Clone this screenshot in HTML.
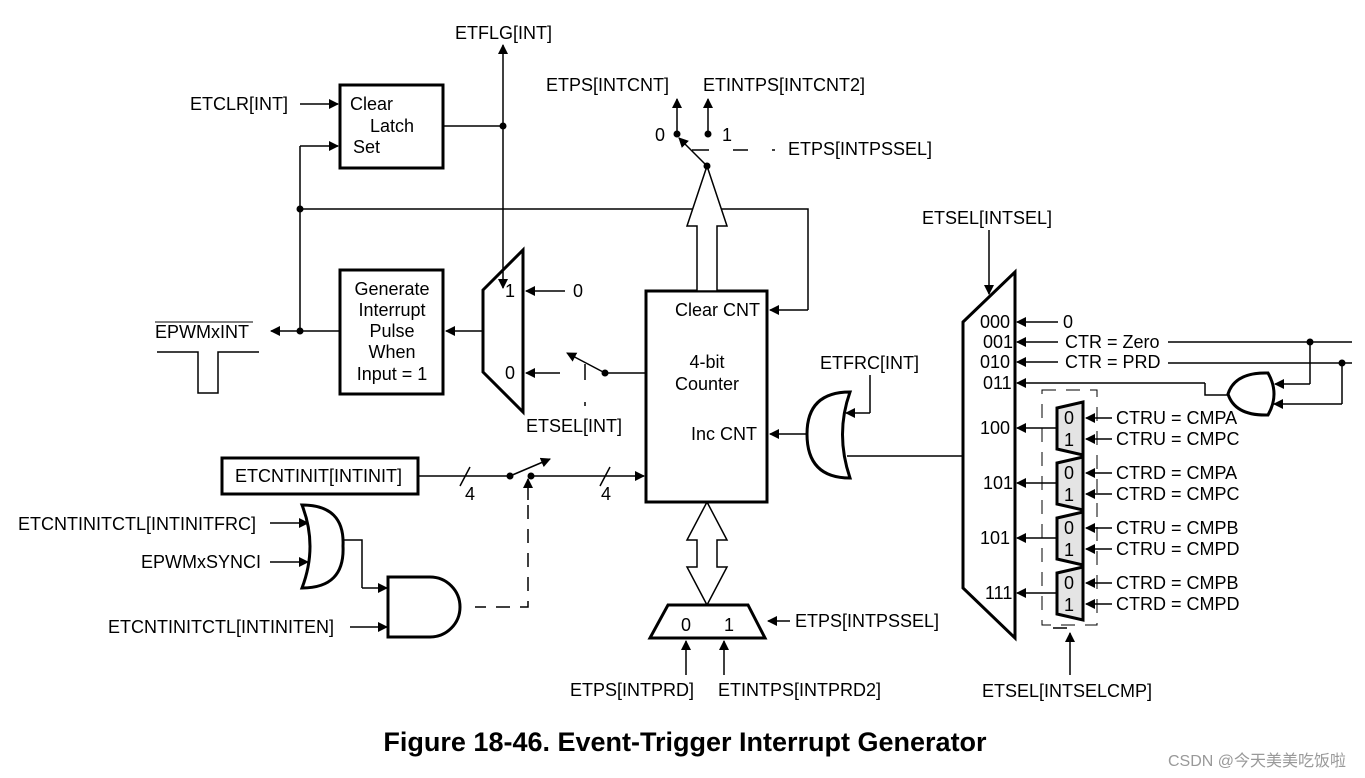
<!DOCTYPE html>
<html><head><meta charset="utf-8"><style>
html,body{margin:0;padding:0;background:#fff;}
svg{display:block;font-family:"Liberation Sans",Arial,sans-serif;}
text{font-size:18px;fill:#000;}
</style></head><body>
<svg width="1365" height="778" viewBox="0 0 1365 778" xmlns="http://www.w3.org/2000/svg">
<defs>
<marker id="a" markerWidth="10" markerHeight="10" refX="9" refY="5" orient="auto" markerUnits="userSpaceOnUse"><path d="M0,0 L10,5 L0,10 z" fill="#000"/></marker>
</defs>
<g stroke="#000" stroke-width="1.5" fill="none">
<rect x="340" y="85" width="103" height="83" stroke-width="3"/>
<line x1="300" y1="104" x2="338" y2="104" marker-end="url(#a)"/>
<line x1="300" y1="146" x2="338" y2="146" marker-end="url(#a)"/>
<polyline points="300,146 300,331"/>
<line x1="443" y1="126" x2="503" y2="126"/>
<line x1="503" y1="126" x2="503" y2="45" marker-end="url(#a)"/>
<line x1="503" y1="126" x2="503" y2="288" marker-end="url(#a)"/>
<polyline points="300,209 808,209 808,310" />
<line x1="808" y1="310" x2="770" y2="310" marker-end="url(#a)"/>
<polygon points="483,290 523,250 523,412 483,372" stroke-width="3"/>
<line x1="565" y1="291" x2="526" y2="291" marker-end="url(#a)"/>
<line x1="560" y1="373" x2="526" y2="373" marker-end="url(#a)"/>
<line x1="605" y1="373" x2="567" y2="353" marker-end="url(#a)"/>
<line x1="605" y1="373" x2="645" y2="373"/>
<line x1="585" y1="364" x2="585" y2="380"/>
<line x1="585" y1="402" x2="585" y2="406"/>
<rect x="340" y="270" width="103" height="124" stroke-width="3"/>
<line x1="483" y1="331" x2="446" y2="331" marker-end="url(#a)"/>
<line x1="340" y1="331" x2="271" y2="331" marker-end="url(#a)"/>
<polyline points="157,352 198,352 198,393 218,393 218,352 259,352"/>
<line x1="155" y1="322" x2="253" y2="322" stroke-width="1"/>
<rect x="646" y="291" width="121" height="211" stroke-width="3"/>
<polygon points="697,291 697,226 687,226 707,166 727,226 717,226 717,291" fill="#fff"/>
<line x1="707" y1="166" x2="679" y2="138" marker-end="url(#a)"/>
<line x1="677" y1="134" x2="677" y2="99" marker-end="url(#a)"/>
<line x1="708" y1="134" x2="708" y2="99" marker-end="url(#a)"/>
<path d="M692,150 H709 M733,150 H748 M772,150 H775"/>
<polygon points="707,502 727,540 717,540 717,567 727,567 707,605 687,567 697,567 697,540 687,540" fill="#fff"/>
<polygon points="650,638 765,638 748,605 668,605" stroke-width="3" fill="#fff"/>
<line x1="686" y1="675" x2="686" y2="641" marker-end="url(#a)"/>
<line x1="724" y1="675" x2="724" y2="641" marker-end="url(#a)"/>
<line x1="790" y1="621" x2="768" y2="621" marker-end="url(#a)"/>
<rect x="222" y="458" width="196" height="36" stroke-width="3"/>
<line x1="418" y1="476" x2="510" y2="476"/>
<line x1="460" y1="486" x2="470" y2="467"/>
<line x1="510" y1="476" x2="550" y2="459" marker-end="url(#a)"/>
<line x1="531" y1="476" x2="644" y2="476" marker-end="url(#a)"/>
<line x1="600" y1="486" x2="610" y2="467"/>
<line x1="528" y1="500" x2="528" y2="479" marker-end="url(#a)"/>
<path d="M528,505 V607 H475" stroke-dasharray="14,10"/>
<path d="M302,505 Q345,505 343,546 Q345,588 302,588 Q318,546 302,505 z" stroke-width="3"/>
<line x1="270" y1="523" x2="308" y2="523" marker-end="url(#a)"/>
<line x1="270" y1="562" x2="308" y2="562" marker-end="url(#a)"/>
<polyline points="343,540 362,540 362,588"/>
<line x1="362" y1="588" x2="387" y2="588" marker-end="url(#a)"/>
<path d="M388,577 H430 A30,30 0 0 1 430,637 H388 z" stroke-width="3"/>
<line x1="350" y1="627" x2="387" y2="627" marker-end="url(#a)"/>
<path d="M850,392 Q807,392 807,434 Q807,478 850,478 Q835,434 850,392 z" stroke-width="3"/>
<line x1="807" y1="434" x2="770" y2="434" marker-end="url(#a)"/>
<polyline points="870,375 870,413"/>
<line x1="870" y1="413" x2="846" y2="413" marker-end="url(#a)"/>
<line x1="963" y1="456" x2="847" y2="456"/>
<polygon points="963,322 1015,272 1015,638 963,588" stroke-width="3"/>
<line x1="989" y1="230" x2="989" y2="294" marker-end="url(#a)"/>
<line x1="1058" y1="322" x2="1017" y2="322" marker-end="url(#a)"/>
<line x1="1058" y1="342" x2="1017" y2="342" marker-end="url(#a)"/>
<line x1="1058" y1="362" x2="1017" y2="362" marker-end="url(#a)"/>
<line x1="1168" y1="342" x2="1352" y2="342"/>
<line x1="1168" y1="363" x2="1352" y2="363"/>
<polyline points="1205,383 1205,395 1228,395"/>
<line x1="1205" y1="383" x2="1017" y2="383" marker-end="url(#a)"/>
<path d="M1268,373 Q1235,372 1228,394 Q1235,416 1268,415 Q1280,394 1268,373 z" stroke-width="3"/>
<polyline points="1310,342 1310,384"/>
<line x1="1310" y1="384" x2="1275" y2="384" marker-end="url(#a)"/>
<polyline points="1342,363 1342,404"/>
<line x1="1342" y1="404" x2="1274" y2="404" marker-end="url(#a)"/>
<rect x="1042" y="390" width="55" height="235" stroke-width="1" stroke-dasharray="14,10"/>
<line x1="1070" y1="675" x2="1070" y2="633" marker-end="url(#a)"/>
<line x1="1053" y1="628" x2="1067" y2="628"/>
<g fill="#e4e4e4" stroke-width="3">
<polygon points="1057,408 1083,402 1083,455 1057,449"/>
<polygon points="1057,463 1083,457 1083,510 1057,504"/>
<polygon points="1057,518 1083,512 1083,565 1057,559"/>
<polygon points="1057,573 1083,567 1083,620 1057,614"/>
</g>
<g>
<line x1="1112" y1="418" x2="1086" y2="418" marker-end="url(#a)"/><line x1="1112" y1="439" x2="1086" y2="439" marker-end="url(#a)"/>
<line x1="1112" y1="473" x2="1086" y2="473" marker-end="url(#a)"/><line x1="1112" y1="494" x2="1086" y2="494" marker-end="url(#a)"/>
<line x1="1112" y1="528" x2="1086" y2="528" marker-end="url(#a)"/><line x1="1112" y1="549" x2="1086" y2="549" marker-end="url(#a)"/>
<line x1="1112" y1="583" x2="1086" y2="583" marker-end="url(#a)"/><line x1="1112" y1="604" x2="1086" y2="604" marker-end="url(#a)"/>
<line x1="1057" y1="428" x2="1017" y2="428" marker-end="url(#a)"/>
<line x1="1057" y1="483" x2="1017" y2="483" marker-end="url(#a)"/>
<line x1="1057" y1="538" x2="1017" y2="538" marker-end="url(#a)"/>
<line x1="1057" y1="593" x2="1017" y2="593" marker-end="url(#a)"/>
</g>
</g>
<g fill="#000">
<circle cx="503" cy="126" r="3.5"/><circle cx="300" cy="209" r="3.5"/><circle cx="300" cy="331" r="3.5"/>
<circle cx="605" cy="373" r="3.5"/><circle cx="707" cy="166" r="3.5"/><circle cx="677" cy="134" r="3.5"/><circle cx="708" cy="134" r="3.5"/>
<circle cx="510" cy="476" r="3.5"/><circle cx="531" cy="476" r="3.5"/>
<circle cx="1310" cy="342" r="3.5"/><circle cx="1342" cy="363" r="3.5"/>
</g>
<text x="350" y="110">Clear</text><text x="370" y="132">Latch</text><text x="353" y="153">Set</text>
<text x="190" y="110">ETCLR[INT]</text>
<text x="455" y="39">ETFLG[INT]</text>
<text x="546" y="91">ETPS[INTCNT]</text><text x="703" y="91">ETINTPS[INTCNT2]</text>
<text x="655" y="141">0</text><text x="722" y="141">1</text>
<text x="788" y="155">ETPS[INTPSSEL]</text>
<text x="505" y="297">1</text><text x="505" y="379">0</text><text x="573" y="297">0</text>
<text x="526" y="432">ETSEL[INT]</text>
<g text-anchor="middle"><text x="392" y="295">Generate</text><text x="392" y="316">Interrupt</text><text x="392" y="337">Pulse</text><text x="392" y="358">When</text><text x="392" y="380">Input = 1</text>
<text x="707" y="368">4-bit</text><text x="707" y="390">Counter</text></g>
<text x="155" y="338">EPWMxINT</text>
<text x="675" y="316">Clear CNT</text><text x="691" y="440">Inc CNT</text>
<text x="235" y="482">ETCNTINIT[INTINIT]</text>
<text x="465" y="500">4</text><text x="601" y="500">4</text>
<text x="18" y="530">ETCNTINITCTL[INTINITFRC]</text>
<text x="141" y="568">EPWMxSYNCI</text>
<text x="108" y="633">ETCNTINITCTL[INTINITEN]</text>
<text x="681" y="631">0</text><text x="724" y="631">1</text>
<text x="795" y="627">ETPS[INTPSSEL]</text>
<text x="570" y="696">ETPS[INTPRD]</text><text x="718" y="696">ETINTPS[INTPRD2]</text>
<text x="820" y="369">ETFRC[INT]</text>
<text x="922" y="224">ETSEL[INTSEL]</text>
<text x="980" y="328">000</text><text x="983" y="348">001</text><text x="980" y="368">010</text><text x="983" y="389">011</text>
<text x="980" y="434">100</text><text x="983" y="489">101</text><text x="980" y="544">101</text><text x="985" y="599">111</text>
<text x="1063" y="328">0</text><text x="1065" y="348">CTR = Zero</text><text x="1065" y="368">CTR = PRD</text>
<g style="font-size:17px">
<text x="1064" y="424">0</text><text x="1064" y="446">1</text>
<text x="1064" y="479">0</text><text x="1064" y="501">1</text>
<text x="1064" y="534">0</text><text x="1064" y="556">1</text>
<text x="1064" y="589">0</text><text x="1064" y="611">1</text>
</g>
<text x="1116" y="424">CTRU = CMPA</text><text x="1116" y="445">CTRU = CMPC</text>
<text x="1116" y="479">CTRD = CMPA</text><text x="1116" y="500">CTRD = CMPC</text>
<text x="1116" y="534">CTRU = CMPB</text><text x="1116" y="555">CTRU = CMPD</text>
<text x="1116" y="589">CTRD = CMPB</text><text x="1116" y="610">CTRD = CMPD</text>
<text x="982" y="697">ETSEL[INTSELCMP]</text>
<text x="685" y="751" text-anchor="middle" style="font-size:27px;font-weight:bold">Figure 18-46. Event-Trigger Interrupt Generator</text>
<text x="1168" y="766" style="font-size:16px;fill:#999;font-family:'Liberation Sans','Noto Sans CJK SC',sans-serif">CSDN @今天美美吃饭啦</text>
</svg>
</body></html>
